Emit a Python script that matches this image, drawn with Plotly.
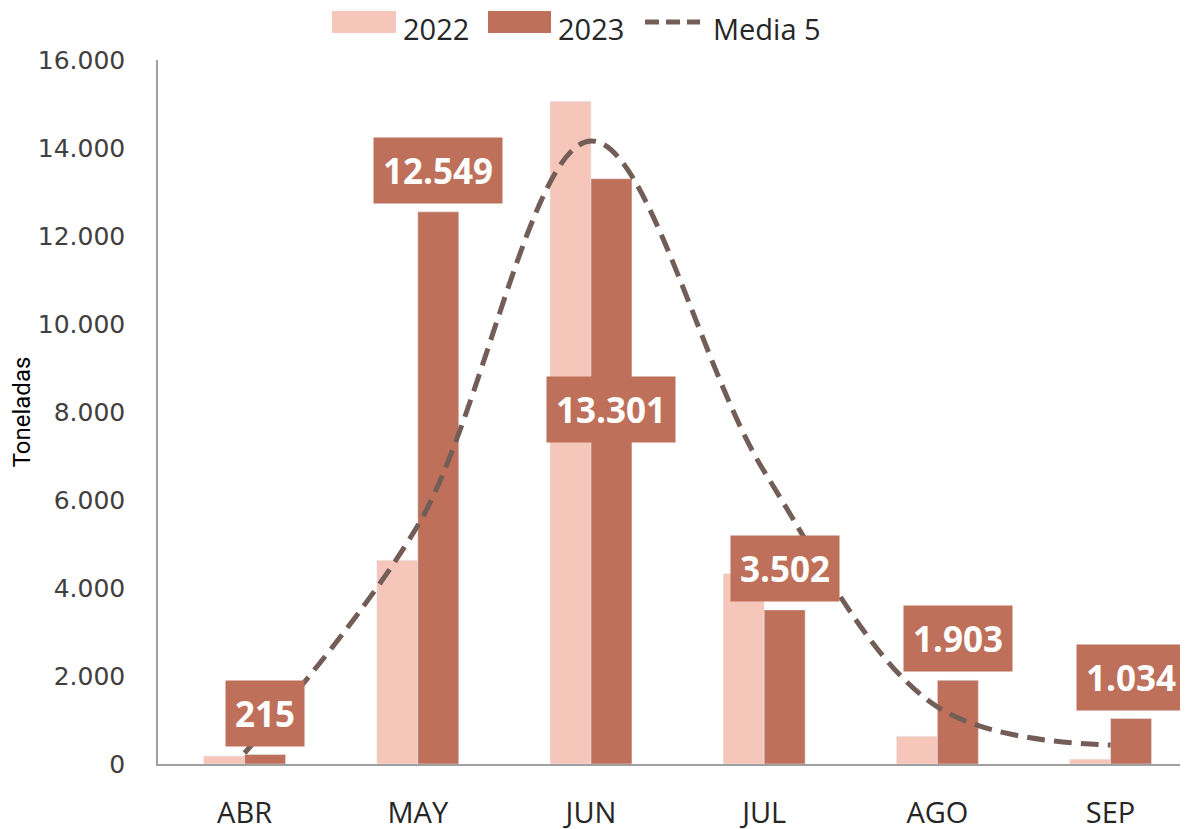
import plotly.graph_objects as go

# ==================== datos ====================
MESES = ["ABR", "MAY", "JUN", "JUL", "AGO", "SEP"]
V2022 = [180, 4630, 15060, 4330, 630, 110]
V2023 = [215, 12549, 13301, 3502, 1903, 1034]
MEDIA5 = [250, 5420, 14160, 6650, 1300, 430]
TICKS = [0, 2000, 4000, 6000, 8000, 10000, 12000, 14000, 16000]

C2022 = "#F6C6BA"
C2023 = "#BE705A"
CLINE = "#735E57"
FONT = "Open Sans"

# la página añade 8px de margen al body, se compensa aquí
OFF = 8
W, H = 1188, 829
ML, MR, MT, MB = 158 - OFF, OFF, 60 - OFF, 65 + OFF


def px2x(px):
    return (px - OFF - ML) / (W - ML - MR)


def px2y(py):
    return (H - MB - (py - OFF)) / (H - MT - MB)


fig = go.Figure()

fig.add_trace(go.Bar(x=MESES, y=V2022, name="2022", marker=dict(color=C2022)))
fig.add_trace(go.Bar(x=MESES, y=V2023, name="2023", marker=dict(color=C2023)))
fig.add_trace(go.Scatter(
    x=MESES, y=MEDIA5, name="Media 5", mode="lines",
    line=dict(color=CLINE, width=5, dash="18px,9px", shape="spline", smoothing=1.0),
))

# etiquetas de 2023 (extremo exterior, salvo JUN que va centrada)
for i, (m, v) in enumerate(zip(MESES, V2023)):
    txt = f"{v:,}".replace(",", ".")
    if m == "JUN":
        y, yanchor, yshift = v * 0.605, "middle", 0
    else:
        y, yanchor, yshift = v, "bottom", 8
    fig.add_annotation(
        x=i, y=y, text=f"<b>{txt}</b>", showarrow=False,
        xshift=20.5, yshift=yshift, yanchor=yanchor,
        font=dict(family=FONT, size=35, color="white"),
        bgcolor=C2023, borderpad=9,
    )

# leyenda dibujada a mano (rectángulos anchos como en el original)
ly = 22
for x0, x1, col in [(332, 396, C2022), (488, 551, C2023)]:
    fig.add_shape(type="rect", xref="paper", yref="paper",
                  x0=px2x(x0), x1=px2x(x1), y0=px2y(ly - 11), y1=px2y(ly + 11),
                  fillcolor=col, line=dict(width=0))
fig.add_shape(type="line", xref="paper", yref="paper",
              x0=px2x(645), x1=px2x(700), y0=px2y(ly), y1=px2y(ly),
              line=dict(color=CLINE, width=5, dash="14px,7px"))
for xl, t in [(402, "2022"), (557, "2023"), (712, "Media 5")]:
    fig.add_annotation(xref="paper", yref="paper", x=px2x(xl), y=px2y(OFF),
                       xanchor="left", yanchor="top", text=t, showarrow=False,
                       borderpad=0,
                       font=dict(family=FONT, size=29, color="#262626"))

fig.update_layout(
    width=W, height=H,
    margin=dict(l=ML, r=MR, t=MT, b=MB, autoexpand=False),
    plot_bgcolor="white", paper_bgcolor="white",
    barmode="group", bargap=0.527, bargroupgap=0,
    separators=",.",
    font=dict(family=FONT, color="#404040"),
    showlegend=False,
    xaxis=dict(
        range=[-0.5, 5.447], showline=True, linecolor="#A0A0A0", linewidth=2,
        ticks="", tickfont=dict(size=29, color="#262626"), showgrid=False,
        ticklabelstandoff=22, automargin=False,
    ),
    yaxis=dict(
        range=[0, 16000], tickvals=TICKS, tickformat=",", showline=True,
        linecolor="#A0A0A0", linewidth=1.5, showgrid=False, zeroline=False,
        ticks="", ticklen=0, tickfont=dict(family="DejaVu Sans", size=25, color="#404040"),
        ticklabelstandoff=26, automargin=False,
        title=dict(text="Toneladas", font=dict(family="Liberation Sans Narrow, Roboto", size=24, color="black"),
                   standoff=2),
    ),
)

fig.write_html("out.html")
